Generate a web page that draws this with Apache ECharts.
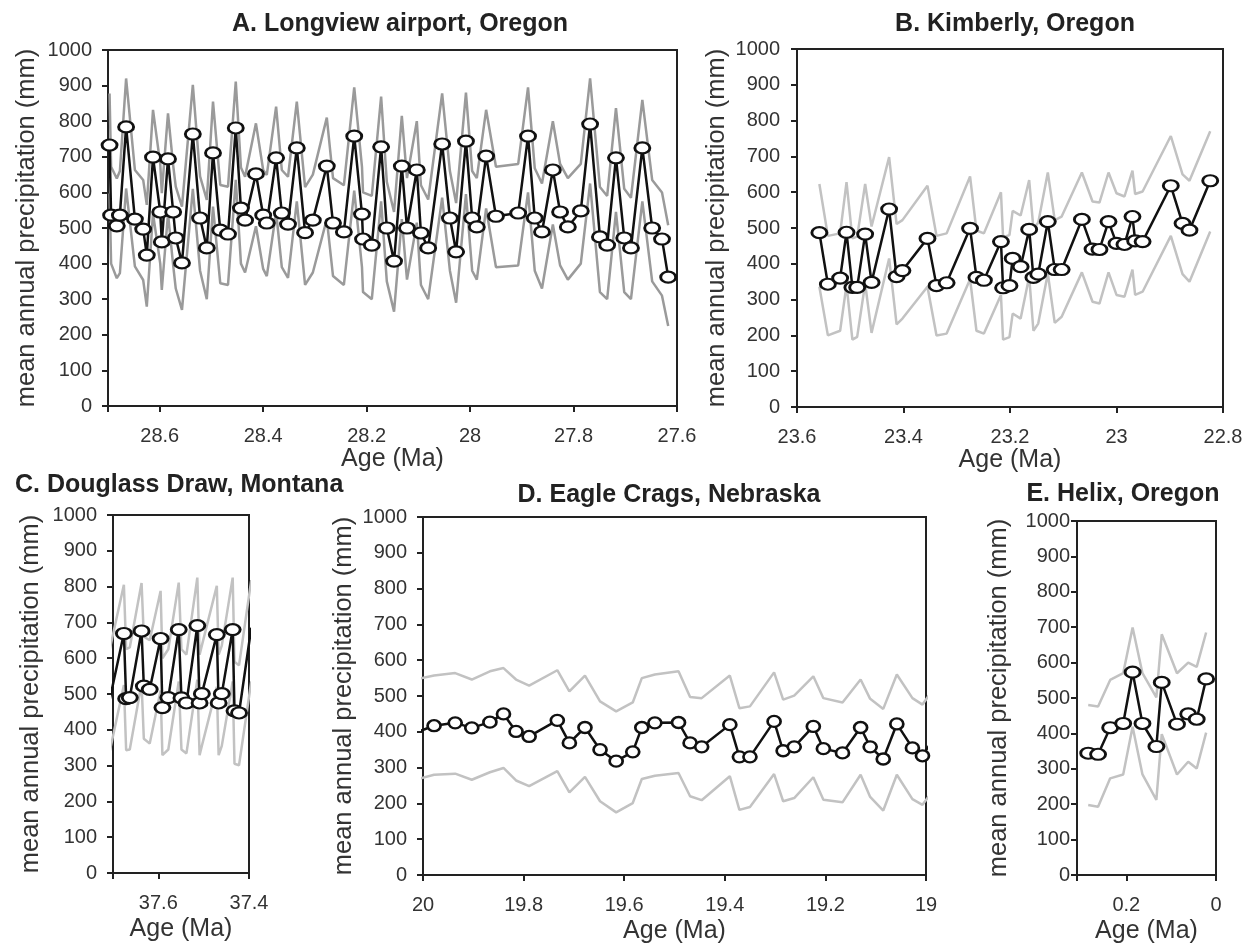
<!DOCTYPE html>
<html>
<head>
<meta charset="utf-8">
<script src="https://cdn.jsdelivr.net/npm/echarts@6/dist/echarts.min.js"></script>
<style>
  html, body { margin: 0; padding: 0; background: #fff; }
  #main { width: 1245px; height: 943px; }
</style>
</head>
<body>
<div id="main"></div>
<script>
// A. Longview airport, Oregon
let ageA = [28.697, 28.694, 28.683, 28.677, 28.665, 28.648, 28.632, 28.625, 28.613, 28.599,
  28.596, 28.584, 28.574, 28.569, 28.557, 28.536, 28.522, 28.509, 28.497, 28.483,
  28.468, 28.453, 28.443, 28.435, 28.414, 28.400, 28.393, 28.375, 28.364, 28.352,
  28.335, 28.319, 28.304, 28.277, 28.265, 28.244, 28.224, 28.209, 28.207, 28.190,
  28.172, 28.161, 28.147, 28.132, 28.122, 28.103, 28.095, 28.081, 28.054, 28.039,
  28.027, 28.008, 27.996, 27.987, 27.969, 27.950, 27.907, 27.888, 27.875, 27.861,
  27.840, 27.826, 27.811, 27.786, 27.768, 27.749, 27.735, 27.718, 27.702, 27.689,
  27.667, 27.648, 27.629, 27.617];
let precipA = [733, 536, 506, 536, 784, 525, 497, 424, 699, 545,
  461, 694, 545, 472, 402, 764, 528, 444, 711, 494,
  483, 781, 556, 522, 652, 536, 514, 697, 542, 511,
  725, 487, 522, 674, 514, 489, 758, 539, 469, 452,
  728, 500, 407, 674, 500, 663, 486, 444, 736, 528,
  433, 744, 528, 503, 702, 533, 542, 758, 528, 489,
  663, 545, 503, 548, 792, 475, 452, 697, 472, 444,
  725, 500, 469, 362];
let upperA = [878, 672, 639, 660, 920, 663, 635, 565, 832, 680,
  598, 822, 676, 616, 560, 902, 645, 579, 855, 621,
  616, 911, 670, 644, 794, 663, 649, 841, 663, 644,
  855, 615, 650, 810, 640, 620, 895, 672, 600, 590,
  869, 630, 545, 815, 640, 800, 620, 580, 878, 660,
  570, 880, 660, 640, 832, 672, 680, 895, 668, 625,
  800, 680, 640, 680, 920, 615, 590, 837, 610, 585,
  860, 635, 600, 508];
let lowerA = [597, 400, 359, 373, 611, 392, 354, 279, 541, 400,
  326, 540, 395, 330, 270, 610, 380, 300, 560, 345,
  340, 635, 400, 375, 505, 385, 365, 545, 390, 360,
  575, 340, 375, 525, 365, 340, 605, 390, 320, 300,
  575, 350, 265, 525, 355, 515, 340, 300, 585, 380,
  290, 595, 380, 355, 555, 390, 395, 600, 380, 330,
  510, 395, 355, 400, 625, 320, 300, 545, 320, 300,
  575, 350, 310, 225];

// B. Kimberly, Oregon
let ageB = [23.558, 23.542, 23.519, 23.507, 23.496, 23.487, 23.472, 23.460, 23.427, 23.413,
  23.402, 23.355, 23.338, 23.319, 23.275, 23.263, 23.249, 23.217, 23.213, 23.201,
  23.195, 23.180, 23.164, 23.156, 23.147, 23.129, 23.116, 23.103, 23.065, 23.045,
  23.032, 23.015, 23.000, 22.985, 22.970, 22.965, 22.951, 22.898, 22.876, 22.863,
  22.824];
let precipB = [487, 343, 360, 488, 334, 334, 483, 348, 553, 364,
  381, 471, 339, 347, 499, 362, 354, 462, 333, 339,
  415, 392, 496, 362, 371, 518, 384, 384, 524, 441,
  440, 518, 457, 454, 532, 464, 462, 618, 513, 494,
  632];
let upperB = [623, 478, 485, 628, 471, 476, 623, 504, 698, 511,
  522, 618, 478, 485, 644, 493, 485, 600, 474, 480,
  548, 535, 634, 498, 515, 655, 522, 532, 655, 574,
  571, 655, 597, 588, 660, 595, 602, 757, 650, 632,
  770];
let lowerB = [336, 200, 213, 341, 188, 196, 345, 207, 415, 231,
  247, 336, 200, 205, 357, 213, 205, 313, 188, 195,
  261, 247, 364, 213, 233, 373, 235, 252, 376, 294,
  289, 376, 313, 308, 384, 313, 322, 478, 371, 350,
  490];

// C. Douglass Draw, Montana (first and last samples fall just outside the axis)
let ageC = [37.708, 37.676, 37.671, 37.663, 37.637, 37.632, 37.619, 37.595, 37.591, 37.578,
  37.555, 37.549, 37.538, 37.514, 37.509, 37.504, 37.471, 37.467, 37.460, 37.436,
  37.432, 37.422, 37.395];
let precipC = [480, 669, 487, 490, 676, 522, 513, 655, 462, 490,
  680, 489, 475, 691, 475, 501, 666, 475, 501, 680,
  453, 447, 685];
let upperC = [620, 805, 625, 630, 810, 660, 650, 788, 600, 625,
  811, 625, 610, 825, 610, 635, 802, 610, 635, 825,
  590, 580, 818];
let lowerC = [335, 525, 343, 345, 530, 375, 362, 510, 329, 345,
  535, 345, 334, 540, 329, 355, 520, 329, 355, 535,
  305, 301, 535];

// D. Eagle Crags, Nebraska
let ageD = [20.010, 19.978, 19.936, 19.903, 19.867, 19.840, 19.815, 19.789, 19.733, 19.709,
  19.678, 19.648, 19.616, 19.583, 19.565, 19.539, 19.492, 19.469, 19.446, 19.390,
  19.371, 19.350, 19.302, 19.284, 19.262, 19.224, 19.204, 19.166, 19.130, 19.111,
  19.085, 19.058, 19.027, 19.007, 18.990];
let precipD = [400, 417, 425, 411, 427, 450, 401, 387, 432, 369,
  412, 350, 318, 344, 412, 425, 426, 369, 358, 420,
  330, 330, 429, 347, 358, 415, 353, 341, 412, 358,
  324, 422, 355, 333, 370];
let upperD = [548, 557, 564, 546, 569, 578, 546, 529, 572, 513,
  557, 485, 457, 482, 550, 560, 569, 497, 494, 557,
  466, 471, 566, 490, 501, 555, 494, 482, 546, 492,
  464, 560, 494, 476, 510];
let lowerD = [268, 280, 283, 266, 287, 299, 264, 248, 290, 231,
  274, 206, 175, 201, 268, 277, 285, 220, 209, 276,
  182, 190, 282, 206, 215, 273, 210, 203, 280, 218,
  180, 280, 212, 196, 228];

// E. Helix, Oregon
let ageE = [0.285, 0.263, 0.236, 0.207, 0.186, 0.164, 0.133, 0.121, 0.087, 0.062, 0.043, 0.022];
let precipE = [344, 341, 416, 428, 573, 428, 363, 544, 426, 455, 440, 554];
let upperE = [480, 476, 551, 570, 699, 570, 502, 680, 570, 600, 588, 685];
let lowerE = [198, 193, 273, 284, 419, 284, 212, 398, 284, 320, 301, 402];

let pairs = (ages, vals) => ages.map((a, i) => [a, vals[i]]);

// only label the 0.2 Ma ticks, not the axis ends
let ageLabel = (v) => {
  let k = v / 0.2;
  if (Math.abs(k - Math.round(k)) > 1e-6) return '';
  return String(Math.round(v * 10) / 10);
};

let panels = [
  {title: 'A. Longview airport, Oregon', tx: 400, ty: 12, align: 'center',
   grid: {left: 108, top: 50, width: 569, height: 356},
   xMin: 27.6, xMax: 28.7, ages: ageA, mid: precipA, hi: upperA, lo: lowerA,
   gray: '#9a9a9a', sym: [15, 11], yGap: 68, yMargin: 16, xGap: 40},
  {title: 'B. Kimberly, Oregon', tx: 1015, ty: 12, align: 'center',
   grid: {left: 797, top: 49, width: 426, height: 358},
   xMin: 22.8, xMax: 23.6, ages: ageB, mid: precipB, hi: upperB, lo: lowerB,
   gray: '#c2c2c2', sym: [15, 11], yGap: 67, yMargin: 17, xGap: 40},
  {title: 'C. Douglass Draw, Montana', tx: 15, ty: 473, align: 'left',
   grid: {left: 113, top: 515, width: 136, height: 358},
   xMin: 37.4, xMax: 37.7, ages: ageC, mid: precipC, hi: upperC, lo: lowerC,
   gray: '#c2c2c2', sym: [15, 11], yGap: 69, yMargin: 16, xGap: 44},
  {title: 'D. Eagle Crags, Nebraska', tx: 669, ty: 483, align: 'center',
   grid: {left: 423, top: 517, width: 503, height: 358},
   xMin: 19, xMax: 20, ages: ageD, mid: precipD, hi: upperD, lo: lowerD,
   gray: '#c2c2c2', sym: [13, 11], yGap: 66, yMargin: 16, xGap: 44},
  {title: 'E. Helix, Oregon', tx: 1123, ty: 482, align: 'center',
   grid: {left: 1077, top: 521, width: 139, height: 354},
   xMin: 0, xMax: 0.31, ages: ageE, mid: precipE, hi: upperE, lo: lowerE,
   gray: '#c2c2c2', sym: [15, 11], yGap: 65, yMargin: 7, xGap: 44}
];

let axisLine = {show: true, onZero: false, lineStyle: {color: '#222', width: 2}};
let axisTick = {show: true, length: 6, lineStyle: {color: '#222', width: 2}};

let option = {
  animation: false,
  backgroundColor: '#fff',
  textStyle: {fontFamily: '"Liberation Sans", Arial, sans-serif'},
  title: panels.map(p => ({
    text: p.title, left: p.tx, top: p.ty, textAlign: p.align, padding: 0,
    textStyle: {fontSize: 25, fontWeight: 'bold', color: '#222',
      fontFamily: '"Liberation Sans", Arial, sans-serif'}
  })),
  grid: panels.map(p => Object.assign({
    show: true, borderColor: '#222', borderWidth: 2,
    containLabel: false, outerBoundsMode: 'none'
  }, p.grid)),
  xAxis: panels.map((p, i) => ({
    gridIndex: i, type: 'value', inverse: true,
    min: p.xMin, max: p.xMax, interval: 0.2,
    axisLine: axisLine, axisTick: axisTick, splitLine: {show: false},
    axisLabel: {margin: 20, fontSize: 20, color: '#333', formatter: ageLabel},
    name: 'Age (Ma)', nameLocation: 'middle', nameGap: p.xGap,
    nameTextStyle: {fontSize: 25, color: '#333'}
  })),
  yAxis: panels.map((p, i) => ({
    gridIndex: i, type: 'value', min: 0, max: 1000, interval: 100,
    axisLine: axisLine, axisTick: axisTick, splitLine: {show: false},
    axisLabel: {margin: p.yMargin, fontSize: 20, color: '#333', formatter: v => String(v)},
    name: 'mean annual precipitation (mm)', nameLocation: 'middle', nameGap: p.yGap,
    nameTextStyle: {fontSize: 25.5, color: '#333'}
  })),
  series: []
};

panels.forEach((p, i) => {
  [p.hi, p.lo].forEach(band => {
    option.series.push({
      type: 'line', xAxisIndex: i, yAxisIndex: i, data: pairs(p.ages, band),
      symbol: 'none', silent: true,
      lineStyle: {color: p.gray, width: 2.5}
    });
  });
  option.series.push({
    type: 'line', xAxisIndex: i, yAxisIndex: i, data: pairs(p.ages, p.mid),
    symbol: 'circle', symbolSize: p.sym,
    itemStyle: {color: '#fff', borderColor: '#111', borderWidth: 2.5},
    lineStyle: {color: '#111', width: 2.5}
  });
});

let myChart = echarts.init(document.getElementById('main'));
myChart.setOption(option);
</script>
</body>
</html>
